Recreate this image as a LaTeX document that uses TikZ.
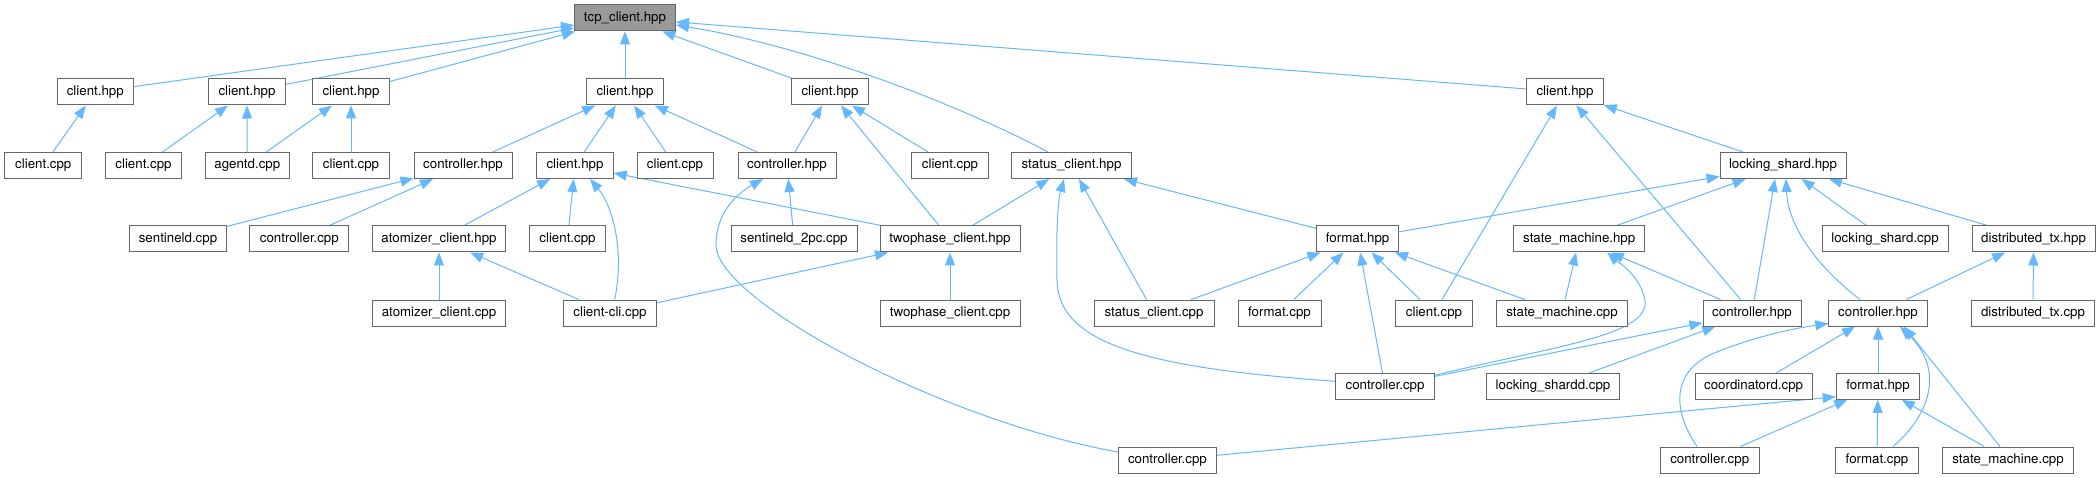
\documentclass[tikz,border=0pt]{standalone}
\usepackage{fontspec}
\setmainfont{TeX Gyre Heros}
\usetikzlibrary{arrows.meta,backgrounds}
\definecolor{edgeblue}{HTML}{63B8FF}
\definecolor{boxgray}{HTML}{666666}
\definecolor{rootgray}{HTML}{999999}
\begin{document}
\begin{tikzpicture}[x=1pt,y=-1pt,
  box/.style={draw=boxgray, line width=1pt, fill=white, minimum width=#1,
    minimum height=26pt, inner sep=0pt, text height=9.5pt, text depth=2.8pt,
    font=\fontsize{13.3}{16}\selectfont},
  rootbox/.style={box=#1, fill=rootgray},
  edge/.style={draw=edgeblue, line width=1pt, -{Triangle[length=13pt,width=10pt]}}]
\useasboundingbox (0,0) rectangle (2098,478);
% row 0
\node[rootbox=101pt] (tcp) at (625,18) {tcp\_client.hpp};
% row 1
\node[box=76.4pt] (cA) at (95.3,92) {client.hpp};
\node[box=76.4pt] (cB) at (247,92) {client.hpp};
\node[box=76.4pt] (cC) at (351,92) {client.hpp};
\node[box=76.4pt] (cD) at (625,92) {client.hpp};
\node[box=76.4pt] (cE) at (830,92) {client.hpp};
\node[box=76.6pt] (cF) at (1565,92) {client.hpp};
% row 2
\node[box=77pt] (cppA) at (43.3,165.5) {client.cpp};
\node[box=76.3pt] (cppB) at (143.5,165.5) {client.cpp};
\node[box=84pt] (agentd) at (247.3,165.5) {agentd.cpp};
\node[box=76.3pt] (cppC) at (351,165.5) {client.cpp};
\node[box=98pt] (ctrlD) at (463,165.5) {controller.hpp};
\node[box=76.4pt] (chD) at (575,165.5) {client.hpp};
\node[box=76pt] (cppD) at (675,165.5) {client.cpp};
\node[box=98pt] (ctrlE) at (787,165.5) {controller.hpp};
\node[box=76.4pt] (cppE) at (950,165.5) {client.cpp};
\node[box=120pt] (stH) at (1071.5,165.5) {status\_client.hpp};
\node[box=126pt] (lockH) at (1783,165.5) {locking\_shard.hpp};
% row 3
\node[box=97.3pt] (sentineld) at (178,239) {sentineld.cpp};
\node[box=98.7pt] (ctrlcppD) at (299.3,239) {controller.cpp};
\node[box=132.6pt] (atomH) at (439,239) {atomizer\_client.hpp};
\node[box=76.8pt] (cppD2) at (567.5,239) {client.cpp};
\node[box=126pt] (sent2pc) at (794,239) {sentineld\_2pc.cpp};
\node[box=140pt] (twoH) at (950,239) {twophase\_client.hpp};
\node[box=82pt] (fmtH) at (1357.6,239) {format.hpp};
\node[box=131pt] (smH) at (1579.2,239) {state\_machine.hpp};
\node[box=126pt] (lockcpp) at (1885,239) {locking\_shard.cpp};
\node[box=123pt] (dtxH) at (2033.5,239) {distributed\_tx.hpp};
% row 4
\node[box=132.6pt] (atomcpp) at (439,313) {atomizer\_client.cpp};
\node[box=93.3pt] (clicli) at (610,313) {client-cli.cpp};
\node[box=140pt] (twocpp) at (950,313) {twophase\_client.cpp};
\node[box=120pt] (stcpp) at (1154,313) {status\_client.cpp};
\node[box=83pt] (fmtcpp) at (1279.5,313) {format.cpp};
\node[box=77pt] (cppF) at (1434,313) {client.cpp};
\node[box=130.5pt] (smcpp) at (1562,313) {state\_machine.cpp};
\node[box=98pt] (ctrlF) at (1752,313) {controller.hpp};
\node[box=98.4pt] (ctrlG) at (1878,313) {controller.hpp};
\node[box=123.6pt] (dtxcpp) at (2033,313) {distributed\_tx.cpp};
% row 5
\node[box=98.3pt] (ctrlcppS) at (1385,386.3) {controller.cpp};
\node[box=133pt] (lockd) at (1553,386.3) {locking\_shardd.cpp};
\node[box=117pt] (coord) at (1753.6,386.3) {coordinatord.cpp};
\node[box=83.6pt] (fmtG) at (1878,386.3) {format.hpp};
% row 6
\node[box=98.2pt] (ctrlcppE) at (1167.4,460) {controller.cpp};
\node[box=99.4pt] (ctrlcppG) at (1709.7,460) {controller.cpp};
\node[box=82.3pt] (fmtcppG) at (1877,460) {format.cpp};
\node[box=130.6pt] (smcppG) at (2008,460) {state\_machine.cpp};

\begin{scope}[on background layer]
% into tcp_client.hpp
\draw[edge] (cA) -- (tcp);
\draw[edge] (cB) -- (tcp);
\draw[edge] (cC) -- (tcp);
\draw[edge] (cD) -- (tcp);
\draw[edge] (cE) -- (tcp);
\draw[edge] (cF) -- (tcp);
\draw[edge] ([xshift=-23.5pt]stH.north) .. controls (950,100) and (800,45) .. ([yshift=-7pt]tcp.east);
% first-level client.hpp files
\draw[edge] (cppA) -- (cA);
\draw[edge] (cppB) -- (cB);
\draw[edge] (agentd) -- (cB);
\draw[edge] (agentd) -- (cC);
\draw[edge] (cppC) -- (cC);
\draw[edge] (ctrlD) -- (cD);
\draw[edge] (chD) -- (cD);
\draw[edge] (cppD) -- (cD);
\draw[edge] (ctrlE) -- (cD);
\draw[edge] (ctrlE) -- (cE);
\draw[edge] (twoH) -- (cE);
\draw[edge] (cppE) -- (cE);
% controller.hpp (left)
\draw[edge] (sentineld) -- (ctrlD);
\draw[edge] (ctrlcppD) -- (ctrlD);
% client.hpp (second level)
\draw[edge] (atomH) -- (chD);
\draw[edge] (cppD2) -- (chD);
\draw[edge] ([xshift=4.7pt]clicli.north) .. controls (625,250) and (612,205) .. ([xshift=15pt]chD.south);
\draw[edge] (twoH) -- (chD);
% controller.hpp (middle)
\draw[edge] (sent2pc) -- (ctrlE);
\draw[edge] ([yshift=8pt]ctrlcppE.west) .. controls (940,420) and (716,300) .. (716,245)
   .. controls (716,210) and (740,192) .. ([xshift=-24pt]ctrlE.south);
% status_client.hpp
\draw[edge] (twoH) -- (stH);
\draw[edge] ([yshift=5pt]ctrlcppS.west) .. controls (1150,368) and (1058,345) .. (1057,280)
   .. controls (1056,230) and (1058,200) .. ([xshift=-7.5pt]stH.south);
\draw[edge] (stcpp) -- (stH);
\draw[edge] (fmtH) -- (stH);
% atomizer / twophase
\draw[edge] (atomcpp) -- (atomH);
\draw[edge] (clicli) -- (atomH);
\draw[edge] (clicli) -- (twoH);
\draw[edge] (twocpp) -- (twoH);
% format.hpp (middle)
\draw[edge] (stcpp) -- (fmtH);
\draw[edge] (fmtcpp) -- (fmtH);
\draw[edge] (ctrlcppS) -- (fmtH);
\draw[edge] (cppF) -- (fmtH);
\draw[edge] (smcpp) -- (fmtH);
% client.hpp (right)
\draw[edge] (lockH) -- (cF);
\draw[edge] (cppF) -- (cF);
\draw[edge] (ctrlF) -- (cF);
% locking_shard.hpp
\draw[edge] (fmtH) -- (lockH);
\draw[edge] (smH) -- (lockH);
\draw[edge] (ctrlF) -- ([xshift=-8pt]lockH.south);
\draw[edge] ([xshift=-18pt]ctrlG.north) .. controls (1815,265) and (1788,225) .. ([xshift=3pt]lockH.south);
\draw[edge] (lockcpp) -- (lockH);
\draw[edge] (dtxH) -- (lockH);
% state_machine.hpp
\draw[edge] (smcpp) -- (smH);
\draw[edge] (ctrlF) -- (smH);
\draw[edge] ([yshift=11pt]ctrlcppS.east) .. controls (1560,345) and (1650,335) .. (1645,300)
   .. controls (1640,275) and (1618,262) .. ([xshift=28pt]smH.south);
% controller.hpp (locking)
\draw[edge] (ctrlcppS) -- (ctrlF);
\draw[edge] (lockd) -- (ctrlF);
% distributed_tx.hpp
\draw[edge] (ctrlG) -- (dtxH);
\draw[edge] (dtxcpp) -- (dtxH);
% controller.hpp (right)
\draw[edge] ([xshift=-12.7pt]ctrlcppG.north) .. controls (1672,410) and (1672,372) .. (1712,354)
   .. controls (1750,338) and (1790,329) .. ([yshift=3pt]ctrlG.south west);
\draw[edge] (coord) -- (ctrlG);
\draw[edge] (fmtG) -- (ctrlG);
\draw[edge] ([xshift=16pt]fmtcppG.north) .. controls (1930,415) and (1945,370) .. ([xshift=22pt]ctrlG.south);
\draw[edge] ([xshift=-8pt]smcppG.north) -- ([xshift=26pt]ctrlG.south);
% format.hpp (right)
\draw[edge] (ctrlcppE) -- ([yshift=3pt]fmtG.south west);
\draw[edge] (ctrlcppG) -- (fmtG);
\draw[edge] (fmtcppG) -- (fmtG);
\draw[edge] (smcppG) -- (fmtG);
\end{scope}
\end{tikzpicture}
\end{document}
